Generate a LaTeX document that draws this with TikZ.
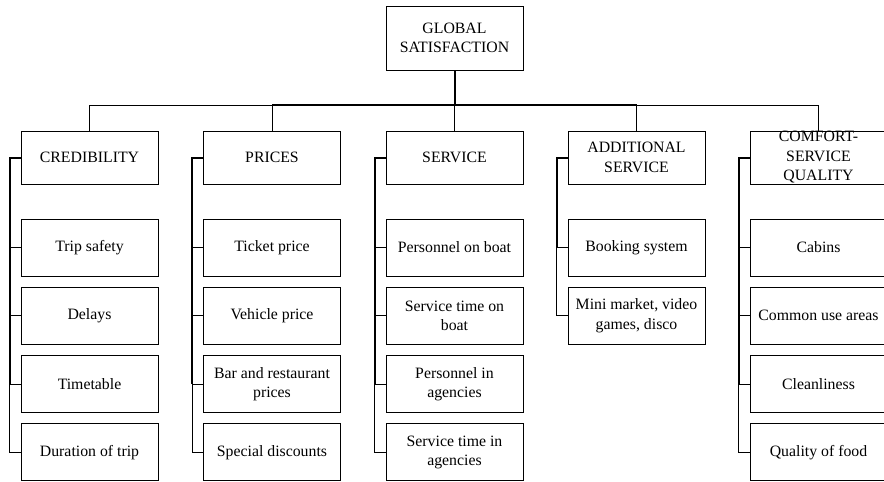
\documentclass[tikz,border=0pt]{standalone}
\usepackage{fontspec}
\setmainfont{Liberation Serif}
\begin{document}
\begin{tikzpicture}[x=1pt,y=-1pt,
  box/.style={draw, line width=0.9pt, minimum width=137pt, align=center, inner sep=0pt, font=\fontsize{15.8}{19.5}\selectfont},
  headbox/.style={box, minimum height=53pt},
  leaf/.style={box, minimum height=57pt},
  conn/.style={line width=0.9pt},
  heavy/.style={line width=2pt}]
\useasboundingbox (0,0) rectangle (884,482);
% root
\node[box, minimum height=64pt] (G) at (454.5,38) {GLOBAL\\SATISFACTION};
% level 1
\node[headbox] (A) at (89.5,157.5) {CREDIBILITY};
\node[headbox] (B) at (272,157.5) {PRICES};
\node[headbox] (C) at (454.5,157.5) {SERVICE};
\node[headbox] (D) at (636.5,157.5) {ADDITIONAL\\SERVICE};
\node[headbox] (E) at (818.5,157.5) {COMFORT-\\SERVICE\\QUALITY};
% leaves
\node[leaf] (A1) at (89.5,247.5) {Trip safety};
\node[leaf] (A2) at (89.5,315.8) {Delays};
\node[leaf] (A3) at (89.5,384.1) {Timetable};
\node[leaf] (A4) at (89.5,452.4) {Duration of trip};
\node[leaf] (B1) at (272,247.5) {Ticket price};
\node[leaf] (B2) at (272,315.8) {Vehicle price};
\node[leaf] (B3) at (272,384.1) {Bar and restaurant\\prices};
\node[leaf] (B4) at (272,452.4) {Special discounts};
\node[leaf] (C1) at (454.5,247.5) {Personnel on boat};
\node[leaf] (C2) at (454.5,315.8) {Service time on\\boat};
\node[leaf] (C3) at (454.5,384.1) {Personnel in\\agencies};
\node[leaf] (C4) at (454.5,452.4) {Service time in\\agencies};
\node[leaf] (D1) at (636.5,247.5) {Booking system};
\node[leaf] (D2) at (636.5,315.8) {Mini market, video\\games, disco};
\node[leaf] (E1) at (818.5,247.5) {Cabins};
\node[leaf] (E2) at (818.5,315.8) {Common use areas};
\node[leaf] (E3) at (818.5,384.1) {Cleanliness};
\node[leaf] (E4) at (818.5,452.4) {Quality of food};
% bus
\coordinate (bus) at (454.5,105);
\draw[heavy] (G.south) -- (bus);
\foreach \n in {A,B,C,D,E} \draw[conn] (\n.north) |- (bus);
\draw[heavy] (B.north |- bus) -- (D.north |- bus);
% brackets
\foreach \p/\last/\pen in {A/4/3, B/4/3, C/4/3, E/4/3, D/2/1} {
  \foreach \k in {1,...,\last} \draw[conn] (\p.west) -- ++(-11,0) |- (\p\k.west);
  \draw[heavy] (\p.west) -- ++(-11,0) -- ([xshift=-11pt]\p.west |- \p\pen.west);
}
\end{tikzpicture}
\end{document}
